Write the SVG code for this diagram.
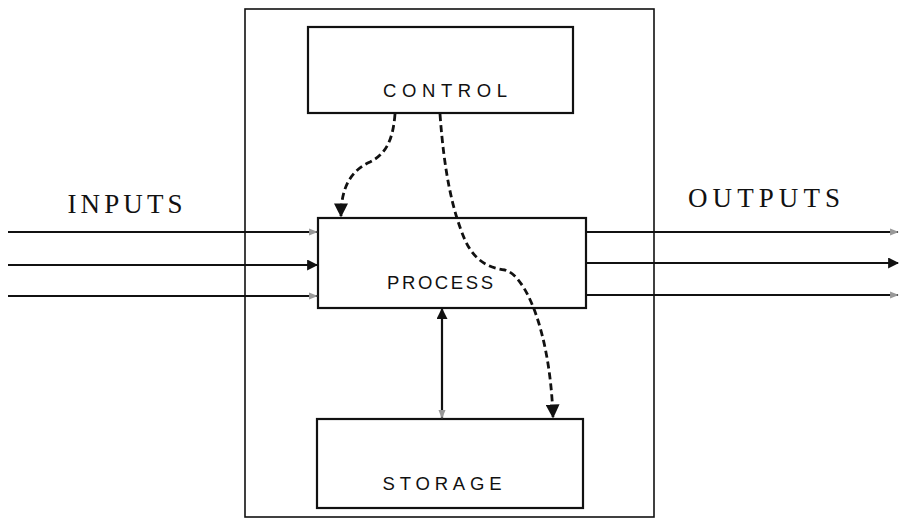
<svg xmlns="http://www.w3.org/2000/svg" width="908" height="522" viewBox="0 0 908 522">
<style>
.box{fill:#fff;stroke:#111;stroke-width:2.2}
.outer{fill:none;stroke:#111;stroke-width:1.6}
.lbl{font-family:"Liberation Sans",Arial,sans-serif;font-size:18.5px;fill:#111;text-anchor:middle}
.big{font-family:"Liberation Serif","Times New Roman",serif;font-size:27px;fill:#111;text-anchor:middle}
.ln{stroke:#111;stroke-width:2.2;fill:none}
.dash{stroke:#111;stroke-width:2.8;fill:none;stroke-dasharray:7 4}
</style>
<defs>
<marker id="ah" viewBox="0 0 10 10" refX="9" refY="5" markerWidth="5" markerHeight="5" orient="auto-start-reverse" markerUnits="strokeWidth">
<path d="M0,0 L10,5 L0,10 z" fill="#111"/>
</marker>
<marker id="af" viewBox="0 0 10 10" refX="9" refY="5" markerWidth="4" markerHeight="4" orient="auto-start-reverse" markerUnits="strokeWidth">
<path d="M0,1 L10,5 L0,9 z" fill="#999"/>
</marker>
</defs>
<rect x="245" y="9" width="409" height="508" class="outer"/>
<g id="control">
<rect x="308" y="27" width="265" height="86" class="box"/>
<text x="445" y="97" class="lbl" textLength="124" lengthAdjust="spacing">CONTROL</text>
</g>
<g id="process">
<rect x="318" y="218" width="268" height="90" class="box"/>
<text x="440" y="289" class="lbl" textLength="106" lengthAdjust="spacing">PROCESS</text>
</g>
<g id="storage">
<rect x="317" y="419" width="266" height="89" class="box"/>
<text x="442" y="490" class="lbl" textLength="119" lengthAdjust="spacing">STORAGE</text>
</g>
<g id="inputs-label"><text x="125" y="213" class="big" textLength="115" lengthAdjust="spacing">INPUTS</text></g>
<g id="outputs-label"><text x="764" y="207" class="big" textLength="152" lengthAdjust="spacing">OUTPUTS</text></g>
<g id="connectors">
<line x1="8" y1="232" x2="317" y2="232" class="ln" marker-end="url(#af)"/>
<line x1="8" y1="265" x2="317" y2="265" class="ln" marker-end="url(#ah)"/>
<line x1="8" y1="296" x2="317" y2="296" class="ln" marker-end="url(#af)"/>
<line x1="586" y1="232" x2="898" y2="232" class="ln" marker-end="url(#af)"/>
<line x1="586" y1="263" x2="898" y2="263" class="ln" marker-end="url(#ah)"/>
<line x1="586" y1="295" x2="898" y2="295" class="ln" marker-end="url(#af)"/>
<line x1="442" y1="309" x2="442" y2="418" class="ln" marker-start="url(#ah)" marker-end="url(#af)"/>
<path d="M395,114 C393,140 386,154 370,162 C352,170 341,186 341,216" class="dash" marker-end="url(#ah)"/>
<path d="M440,114 C444,170 452,210 465,240 C475,262 490,268 505,270 C525,275 550,330 553,417" class="dash" marker-end="url(#ah)"/>
</g>
</svg>
